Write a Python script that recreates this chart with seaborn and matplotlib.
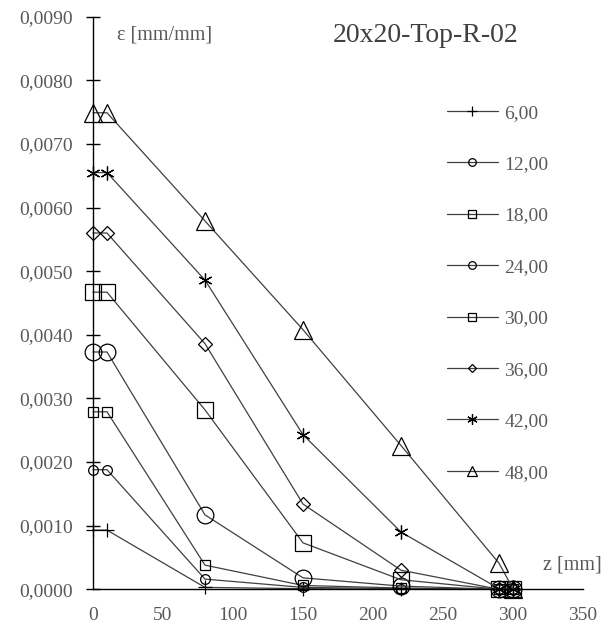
import matplotlib
matplotlib.use("Agg")
import matplotlib.pyplot as plt
import seaborn as sns
import numpy as np

# ---- data ----
z_mm = [0, 10, 80, 150, 220, 290, 300]
s6 = [0.00093, 0.00093, 0.00003, 0.00001, 0.0, 0.0, 0.0]
s12 = [0.00188, 0.00188, 0.00016, 0.00003, 0.00001, 0.0, 0.0]
s18 = [0.00279, 0.00279, 0.00038, 0.00006, 0.00002, 0.0, 0.0]
s24 = [0.00373, 0.00373, 0.00117, 0.00018, 0.00005, 0.0, 0.0]
s30 = [0.00467, 0.00467, 0.00282, 0.00073, 0.00015, 0.0, 0.0]
s36 = [0.00560, 0.00560, 0.00386, 0.00134, 0.00030, 0.0, 0.0]
s42 = [0.00655, 0.00655, 0.00486, 0.00243, 0.00090, 0.00001, 0.0]
s48 = [0.00749, 0.00749, 0.00579, 0.00408, 0.00226, 0.00041, 0.00001]
series_labels = ["6,00", "12,00", "18,00", "24,00", "30,00", "36,00", "42,00", "48,00"]
series_values = [s6, s12, s18, s24, s30, s36, s42, s48]

xticks = [0, 50, 100, 150, 200, 250, 300, 350]
xtick_labels = ["0", "50", "100", "150", "200", "250", "300", "350"]
yticks = [0.0, 0.001, 0.002, 0.003, 0.004, 0.005, 0.006, 0.007, 0.008, 0.009]
ytick_labels = ["0,0000", "0,0010", "0,0020", "0,0030", "0,0040",
                "0,0050", "0,0060", "0,0070", "0,0080", "0,0090"]

title = "20x20-Top-R-02"
y_label = "ε [mm/mm]"
x_label = "z [mm]"

# ---- style ----
sns.set_style("white")
plt.rcParams["font.family"] = ["Liberation Serif", "DejaVu Serif"]

markers = ["+", "o", "s", "o", "s", "D", (6, 2, 0), "^"]
msizes = [10, 7, 7.5, 12, 12, 7, 10, 13.5]
leg_msizes = [7, 5.5, 6, 5.5, 6, 4.5, 7.5, 6.5]

fig = plt.figure(figsize=(6.11, 6.30), dpi=100)
ax = fig.add_axes([93 / 611, 1 - 589.3 / 630, (583 - 93) / 611, (589.3 - 16.7) / 630])

line_col = "#404040"
for lab, vals, mk, ms in zip(series_labels, series_values, markers, msizes):
    sns.lineplot(x=z_mm, y=vals, ax=ax, color=line_col, linewidth=0.9,
                 marker=mk, markersize=ms, markerfacecolor="none",
                 markeredgecolor="black", markeredgewidth=0.9,
                 label=lab, clip_on=False, estimator=None, sort=False)

ax.set_xlim(0, 350)
ax.set_ylim(0, 0.009)
ax.set_xticks(xticks)
ax.set_xticklabels(xtick_labels)
ax.set_yticks(yticks)
ax.set_yticklabels(ytick_labels)

for side in ["top", "right"]:
    ax.spines[side].set_visible(False)
for side in ["left", "bottom"]:
    ax.spines[side].set_color("black")
    ax.spines[side].set_linewidth(1.0)

tick_col = "#595959"
ax.tick_params(axis="y", direction="inout", length=9.5, width=1.0, color="black",
               labelsize=14, labelcolor=tick_col, pad=10, left=True)
ax.tick_params(axis="x", length=0, labelsize=14, labelcolor=tick_col, pad=13)

ax.set_xlabel("")
ax.set_ylabel("")

fig.text(165 / 611, 1 - 35 / 630, y_label, ha="center", va="center",
         fontsize=14.5, color=tick_col)
fig.text(572 / 611, 1 - 565 / 630, x_label, ha="center", va="center",
         fontsize=14.5, color=tick_col)
fig.text(426 / 611, 1 - 35 / 630, title, ha="center", va="center",
         fontsize=20, color="#404040")

leg = ax.legend(loc="upper left", bbox_to_anchor=(447 / 611, 1 - 104 / 630),
                bbox_transform=fig.transFigure, frameon=False, fontsize=14,
                handlelength=2.6, handletextpad=0.35, labelspacing=1.74,
                borderpad=0, borderaxespad=0)
for h, ms in zip(leg.legend_handles, leg_msizes):
    h.set_markersize(ms)
for t in leg.get_texts():
    t.set_color(tick_col)

fig.savefig("out.png", dpi=100)
